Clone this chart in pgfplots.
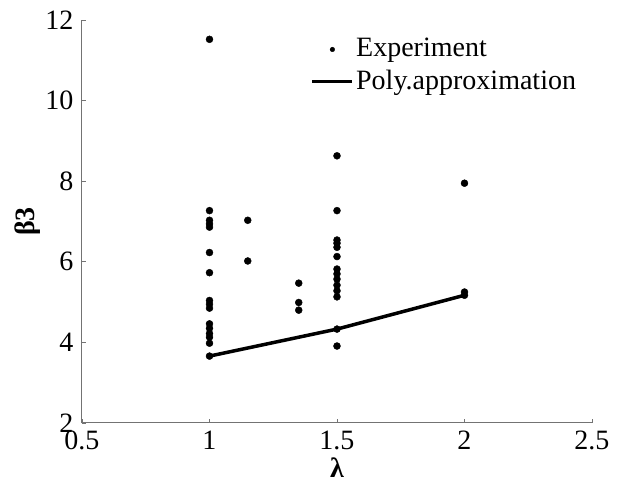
\documentclass[border=0pt]{standalone}
\usepackage{fontspec}
\setmainfont{Liberation Serif}
\usepackage{pgfplots}
\pgfplotsset{compat=1.18}
\begin{document}
\fontsize{28}{32}\selectfont
\begin{tikzpicture}
\path[use as bounding box] (-82pt,-58pt) rectangle (537pt,423pt);
\begin{axis}[
  scale only axis, width=510pt, height=403pt,
  xmin=0.5, xmax=2.5, ymin=2, ymax=12,
  xtick={0.5,1,1.5,2,2.5}, ytick={2,4,6,8,10,12},
  xticklabels={0.5,1,1.5,2,2.5},
  axis lines=left,
  axis line style={-, draw=black!55, line width=1pt},
  tick style={draw=black!55, line width=0.8pt},
  tick align=inside, major tick length=4pt,
  /pgf/number format/assume math mode=true,
  ticklabel style={font=\fontsize{28}{32}\selectfont},
  xticklabel style={yshift=2pt},
  yticklabel style={xshift=1pt},
  xlabel={\textbf{λ}}, ylabel={\textbf{β3}},
  xlabel style={at={(axis description cs:0.5,-0.111)}, anchor=center, inner sep=0pt, font=\fontsize{28}{32}\selectfont},
  ylabel style={at={(axis description cs:-0.106,0.5)}, anchor=center, font=\fontsize{28}{32}\selectfont},
  legend cell align=left,
  legend style={draw=none, fill=none, at={(axis description cs:0.446,0.963)}, anchor=north west,
    font=\fontsize{28}{32}\selectfont, row sep=5pt, inner sep=1pt},
]
\addplot[only marks, mark=*, mark size=3.5pt, black,
  legend image code/.code={\fill (20pt,0pt) circle (2.3pt);}]
  coordinates {
  (1,11.52) (1,7.27) (1,7.03) (1,6.94) (1,6.86) (1,6.23) (1,5.73) (1,5.04)
  (1,4.95) (1,4.85) (1,4.46) (1,4.35) (1,4.22) (1,4.13) (1,3.98) (1,3.66)
  (1.15,7.03) (1.15,6.02)
  (1.35,5.47) (1.35,4.99) (1.35,4.80)
  (1.5,8.63) (1.5,7.27) (1.5,6.54) (1.5,6.46) (1.5,6.36) (1.5,6.13) (1.5,5.82)
  (1.5,5.70) (1.5,5.57) (1.5,5.42) (1.5,5.28) (1.5,5.13) (1.5,4.33) (1.5,3.91)
  (2,7.95) (2,5.25) (2,5.17)
  };
\addlegendentry{Experiment}
\addplot[black, line width=3.5pt, no marks,
  legend image code/.code={\draw[line width=3.5pt] (0pt,0pt) -- (40pt,0pt);}]
  coordinates {(1,3.66) (1.5,4.33) (2,5.17)};
\addlegendentry{Poly.approximation}
\end{axis}
\end{tikzpicture}
\end{document}
